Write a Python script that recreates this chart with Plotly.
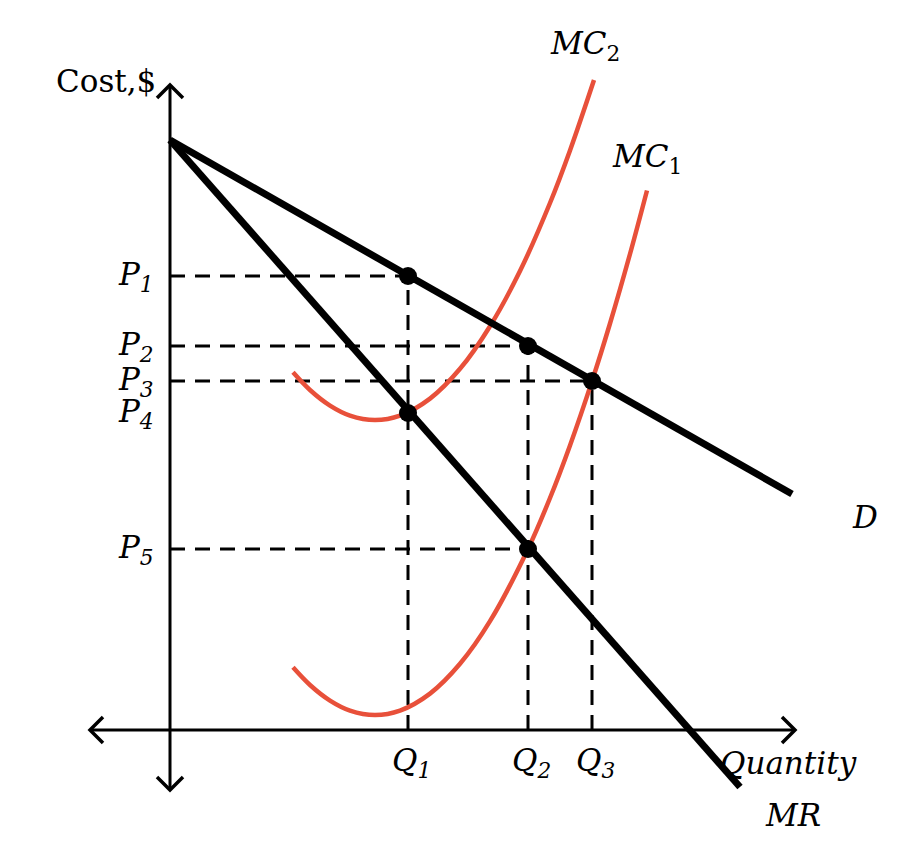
import plotly.graph_objects as go

# ---- data (in chart units) ----
q_labels = ["Q<sub>1</sub>", "Q<sub>2</sub>", "Q<sub>3</sub>"]
q_values = [23.8, 35.8, 42.2]
p_labels = ["P<sub>1</sub>", "P<sub>2</sub>", "P<sub>3</sub>", "P<sub>4</sub>", "P<sub>5</sub>"]
p_values = [45.4, 38.4, 34.9, 31.7, 18.1]

demand_x = [0, 62.2]
demand_y = [59.0, 23.6]
mr_x = [0, 57.0]
mr_y = [59.0, -5.7]

mc1_x = [12.3, 14, 16, 18, 20.5, 23, 26, 29, 32, 35.8, 38, 40, 42.2, 44, 46, 47.7]
mc1_y = [6.27, 4.5, 2.94, 1.94, 1.5, 1.94, 3.64, 6.62, 10.88, 18.1, 23.2, 28.46, 34.89, 40.65, 47.6, 53.95]
mc2_x = [12.3, 14, 16, 18, 20.5, 23, 26, 29, 32, 35, 38, 40, 42.4]
mc2_y = [35.77, 34.0, 32.44, 31.44, 31.0, 31.44, 33.14, 36.12, 40.38, 45.9, 52.7, 57.96, 65.0]

# equilibrium points: (q index, p index)
dot_pairs = [(0, 0), (1, 1), (2, 2), (0, 3), (1, 4)]
# dashed guides: horizontal (p index -> q index), vertical (q index -> p index)
h_guides = [(0, 0), (1, 1), (2, 2), (4, 1)]
v_guides = [(0, 0), (1, 1), (2, 2)]

x_axis = [-8.0, 62.5]
y_axis = [-6.0, 64.5]

FONT = "DejaVu Serif"
RED = "#E8503A"

fig = go.Figure()

# axes
fig.add_trace(go.Scatter(x=x_axis, y=[0, 0], mode="lines", line=dict(color="black", width=3), hoverinfo="skip"))
fig.add_trace(go.Scatter(x=[0, 0], y=y_axis, mode="lines", line=dict(color="black", width=3), hoverinfo="skip"))
a = 1.3
chev = [
    ([x_axis[1] - a, x_axis[1], x_axis[1] - a], [a, 0, -a]),
    ([x_axis[0] + a, x_axis[0], x_axis[0] + a], [a, 0, -a]),
    ([-a, 0, a], [y_axis[1] - a, y_axis[1], y_axis[1] - a]),
    ([-a, 0, a], [y_axis[0] + a, y_axis[0], y_axis[0] + a]),
]
for cx, cy in chev:
    fig.add_trace(go.Scatter(x=cx, y=cy, mode="lines", line=dict(color="black", width=3.5), hoverinfo="skip"))

# dashed guides
dash = "15px,10px"
for pi, qi in h_guides:
    fig.add_trace(go.Scatter(x=[0, q_values[qi]], y=[p_values[pi]] * 2, mode="lines",
                             line=dict(color="black", width=3, dash=dash), hoverinfo="skip"))
for qi, pi in v_guides:
    fig.add_trace(go.Scatter(x=[q_values[qi]] * 2, y=[0, p_values[pi]], mode="lines",
                             line=dict(color="black", width=3, dash=dash), hoverinfo="skip"))

# MC curves
fig.add_trace(go.Scatter(x=mc1_x, y=mc1_y, mode="lines", line=dict(color=RED, width=4.5, shape="spline")))
fig.add_trace(go.Scatter(x=mc2_x, y=mc2_y, mode="lines", line=dict(color=RED, width=4.5, shape="spline")))

# D and MR
fig.add_trace(go.Scatter(x=demand_x, y=demand_y, mode="lines", line=dict(color="black", width=7)))
fig.add_trace(go.Scatter(x=mr_x, y=mr_y, mode="lines", line=dict(color="black", width=7)))

# dots
fig.add_trace(go.Scatter(x=[q_values[q] for q, p in dot_pairs], y=[p_values[p] for q, p in dot_pairs],
                         mode="markers", marker=dict(color="black", size=18)))

# labels
tf = dict(family=FONT, size=31, color="black")
for lab, pv in zip(p_labels, p_values):
    fig.add_annotation(x=-1.4, y=pv, text=f"<i>{lab}</i>", showarrow=False, xanchor="right",
                       yanchor="middle", font=tf)
for lab, qv in zip(q_labels, q_values):
    fig.add_annotation(x=qv + 0.3, y=-1.0, text=f"<i>{lab}</i>", showarrow=False, xanchor="center",
                       yanchor="top", font=tf)
fig.add_annotation(x=-1.2, y=64.9, text="Cost,$", showarrow=False, xanchor="right", yanchor="middle",
                   font=dict(family=FONT, size=31, color="black"))
fig.add_annotation(x=54.8, y=-3.3, text="<i>Quantity</i>", showarrow=False, xanchor="left", yanchor="middle", font=tf)
fig.add_annotation(x=62.3, y=-8.5, text="<i>MR</i>", showarrow=False, xanchor="center", yanchor="middle", font=tf)
fig.add_annotation(x=69.5, y=21.3, text="<i>D</i>", showarrow=False, xanchor="center", yanchor="middle", font=tf)
fig.add_annotation(x=41.5, y=68.5, text="<i>MC</i><sub>2</sub>", showarrow=False, xanchor="center", yanchor="middle", font=tf)
fig.add_annotation(x=47.7, y=57.2, text="<i>MC</i><sub>1</sub>", showarrow=False, xanchor="center", yanchor="middle", font=tf)

# page body adds an 8px offset; shift ranges to compensate
fig.update_layout(
    width=913, height=849, margin=dict(l=0, r=0, t=0, b=0),
    paper_bgcolor="white", plot_bgcolor="white", showlegend=False,
    xaxis=dict(range=[-16.2, 75.1], visible=False, fixedrange=True),
    yaxis=dict(range=[-12.7, 72.2], visible=False, fixedrange=True),
)
fig.write_html("out.html")
